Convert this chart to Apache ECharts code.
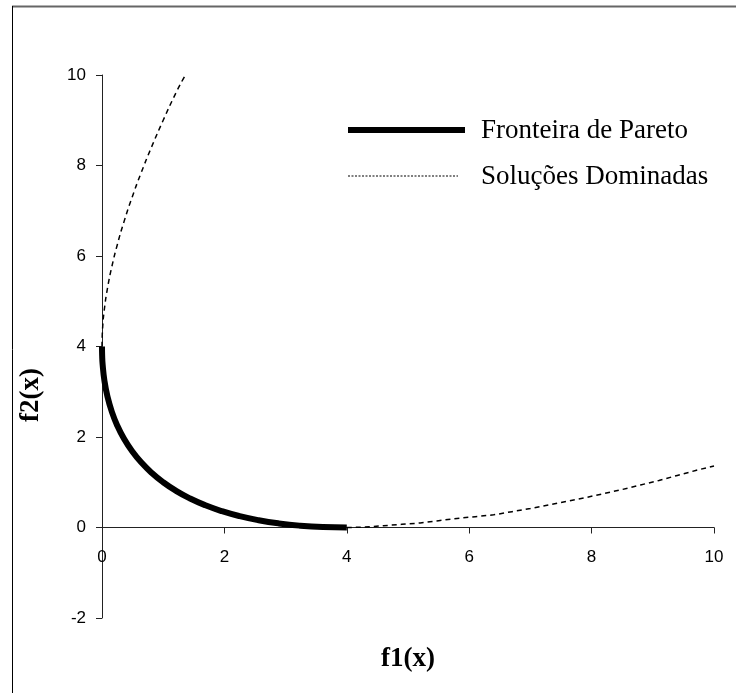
<!DOCTYPE html>
<html>
<head>
<meta charset="utf-8">
<style>
  html, body { margin: 0; padding: 0; background: #ffffff; }
  #chart { width: 736px; height: 693px; }
</style>
<script src="https://cdn.jsdelivr.net/npm/echarts@6/dist/echarts.min.js"></script>
</head>
<body>
<div id="chart"></div>
<script>
// Pareto front: [f1, f2] pairs
const paretoFront = [
  [0, 4], [0.0025, 3.80], [0.01, 3.61], [0.04, 3.24], [0.09, 2.89], [0.16, 2.56],
  [0.25, 2.25], [0.36, 1.96], [0.49, 1.69], [0.64, 1.44], [0.81, 1.21],
  [1.0, 1.0], [1.21, 0.81], [1.44, 0.64], [1.69, 0.49], [1.96, 0.36],
  [2.25, 0.25], [2.56, 0.16], [2.89, 0.09], [3.24, 0.04], [3.61, 0.01], [4.0, 0]
];

// Dominated solutions, upper branch (rising above f2 = 4)
const dominatedUpper = [
  [0, 4], [0.01, 4.41], [0.04, 4.84], [0.09, 5.29], [0.16, 5.76], [0.25, 6.25],
  [0.36, 6.76], [0.49, 7.29], [0.64, 7.84], [0.81, 8.41], [1.0, 9.0],
  [1.21, 9.61], [1.35, 9.97]
];

// Dominated solutions, lower branch (beyond f1 = 4)
const dominatedLower = [
  [4.0, 0], [4.3, 0.01], [4.6, 0.04], [4.9, 0.07], [5.2, 0.10], [5.5, 0.15],
  [5.8, 0.20], [6.1, 0.24], [6.4, 0.28], [6.7, 0.35], [7.0, 0.42], [7.3, 0.50],
  [7.6, 0.58], [7.9, 0.66], [8.2, 0.75], [8.5, 0.84], [8.8, 0.94], [9.1, 1.04],
  [9.4, 1.15], [9.7, 1.26], [10.0, 1.36]
];

const seriesNames = ['Fronteira de Pareto', 'Soluções Dominadas'];
const xTitle = 'f1(x)';
const yTitle = 'f2(x)';
const xRange = [0, 10];
const yRange = [-2, 10];
const tickStep = 2;

const W = 736, H = 693;
const grid = { left: 102, right: 22, top: 75, bottom: 75 };
const plotH = H - grid.top - grid.bottom;
// lift the horizontal axis from the bottom edge up to f2 = 0
const xAxisLift = -plotH * (0 - yRange[0]) / (yRange[1] - yRange[0]);

const chart = echarts.init(document.getElementById('chart'), null, { renderer: 'canvas' });

const serif = '"Liberation Serif", "Times New Roman", serif';
const tickFont = { fontFamily: 'Liberation Sans, Arial, sans-serif', fontSize: 17, color: '#000' };
const dashStyle = { color: '#000', width: 1.5, type: [5, 4] };

// legend rows: sample line + caption
const legendX = 348, legendTextX = 481;
const legendRows = [
  { y: 130, len: 117, width: 6, dash: null },
  { y: 176, len: 110, width: 1.2, dash: [2, 1.5] }
];
const legendGraphics = [];
legendRows.forEach((row, i) => {
  legendGraphics.push({
    type: 'line', silent: true,
    shape: { x1: legendX, y1: row.y, x2: legendX + row.len, y2: row.y },
    style: { stroke: '#000', lineWidth: row.width, lineDash: row.dash }
  });
  legendGraphics.push({
    type: 'text', silent: true, x: legendTextX, y: row.y + 1,
    style: { text: seriesNames[i], textVerticalAlign: 'middle', font: '27px ' + serif, fill: '#000' }
  });
});

chart.setOption({
  animation: false,
  backgroundColor: '#ffffff',
  grid: Object.assign({ containLabel: false, outerBoundsMode: 'none' }, grid),
  xAxis: {
    type: 'value', min: xRange[0], max: xRange[1], interval: tickStep,
    position: 'bottom', offset: xAxisLift,
    name: xTitle, nameLocation: 'middle', nameGap: 118,
    nameTextStyle: { fontFamily: serif, fontWeight: 'bold', fontSize: 27, color: '#000' },
    axisLine: { show: true, onZero: false, lineStyle: { color: '#222', width: 1 } },
    axisTick: { show: true, inside: false, length: 6, lineStyle: { color: '#222' } },
    axisLabel: Object.assign({ margin: 21 }, tickFont),
    splitLine: { show: false }
  },
  yAxis: {
    type: 'value', min: yRange[0], max: yRange[1], interval: tickStep,
    axisLine: { show: true, onZero: false, lineStyle: { color: '#222', width: 1 } },
    axisTick: { show: true, inside: false, length: 6, lineStyle: { color: '#222' } },
    axisLabel: Object.assign({ margin: 16 }, tickFont),
    splitLine: { show: false }
  },
  graphic: [
    { type: 'line', silent: true, shape: { x1: 12, y1: 6.5, x2: W, y2: 6.5 }, style: { stroke: '#666', lineWidth: 2 } },
    { type: 'line', silent: true, shape: { x1: 12.5, y1: 6, x2: 12.5, y2: H }, style: { stroke: '#000', lineWidth: 1 } },
    {
      type: 'text', silent: true, x: 31, y: 395, rotation: Math.PI / 2,
      style: { text: yTitle, textAlign: 'center', textVerticalAlign: 'middle', font: 'bold 27px ' + serif, fill: '#000' }
    }
  ].concat(legendGraphics),
  series: [
    {
      name: seriesNames[0], type: 'line', data: paretoFront, smooth: true,
      showSymbol: false, symbol: 'none', z: 3,
      lineStyle: { color: '#000', width: 6 }
    },
    {
      name: seriesNames[1], type: 'line', data: dominatedUpper, smooth: true,
      showSymbol: false, symbol: 'none', z: 2, lineStyle: dashStyle
    },
    {
      name: seriesNames[1], type: 'line', data: dominatedLower, smooth: false,
      showSymbol: false, symbol: 'none', z: 2, lineStyle: dashStyle
    }
  ]
});
</script>
</body>
</html>
